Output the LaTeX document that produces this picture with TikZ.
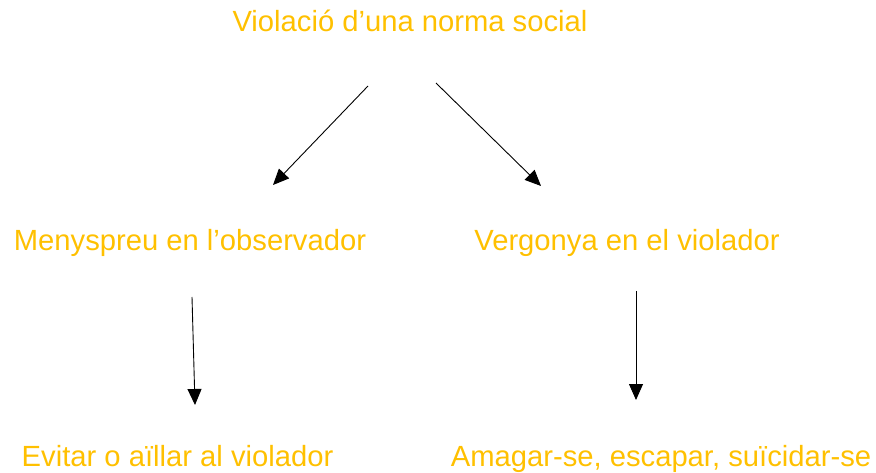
\documentclass[tikz,border=0pt]{standalone}
\usepackage{fontspec}
\setmainfont{Liberation Sans}
\usetikzlibrary{arrows.meta}
\definecolor{txtorange}{RGB}{255,192,0}
\begin{document}
\begin{tikzpicture}[x=1pt,y=-1pt,
  lbl/.style={text=txtorange,font=\fontsize{29.2}{33}\selectfont,anchor=base,inner sep=0pt},
  arr/.style={line width=0.9pt,-{Triangle[length=16pt,width=14pt]}}]
\useasboundingbox (0,0) rectangle (876,473);
\node[lbl] (top) at (410,32) {Violació d’una norma social};
\node[lbl] (menys) at (190,251) {Menyspreu en l’observador};
\node[lbl] (verg) at (627,251) {Vergonya en el violador};
\node[lbl] (evit) at (177.5,466) {Evitar o aïllar al violador};
\node[lbl] (amag) at (661,466) {Amagar-se, escapar, suïcidar-se};
\coordinate (a1s) at (368,86);
\coordinate (a1e) at (273,185);
\coordinate (a2s) at (436,83);
\coordinate (a2e) at (541,186);
\coordinate (a3s) at (192,297);
\coordinate (a3e) at (195,405);
\coordinate (a4s) at (636,291);
\coordinate (a4e) at (636,400);
\draw[arr] (a1s) -- (a1e);
\draw[arr] (a2s) -- (a2e);
\draw[arr] (a3s) -- (a3e);
\draw[arr] (a4s) -- (a4e);
\end{tikzpicture}
\end{document}
